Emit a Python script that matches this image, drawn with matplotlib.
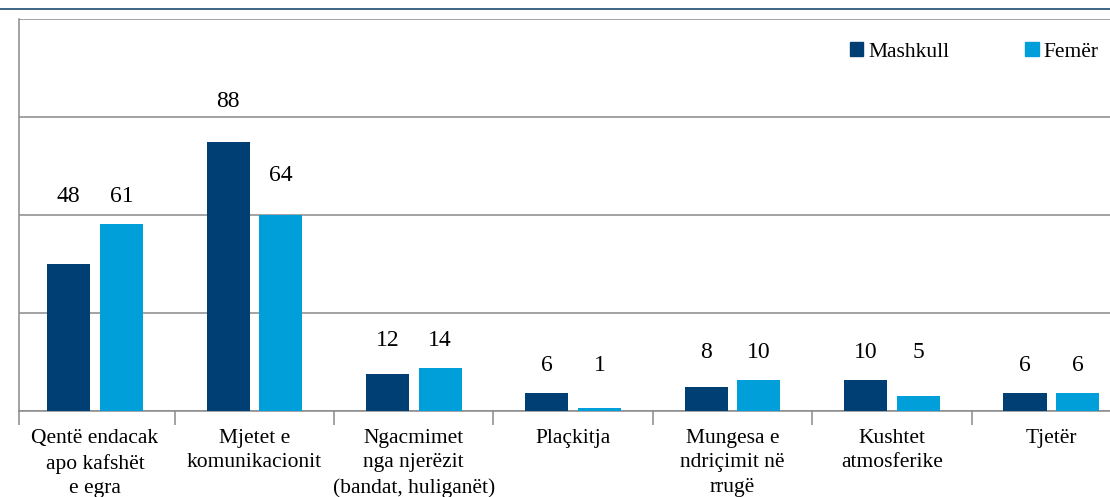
import numpy as np
import matplotlib.pyplot as plt
from matplotlib.patches import Patch
from matplotlib.lines import Line2D

plt.rcParams['font.family'] = ['Liberation Serif', 'DejaVu Serif']

categories = ["Qentë endacak\napo kafshët\ne egra", "Mjetet e\nkomunikacionit",
              "Ngacmimet\nnga njerëzit\n(bandat, huliganët)", "Plaçkitja",
              "Mungesa e\nndriçimit në\nrrugë", "Kushtet\natmosferike", "Tjetër"]
mashkull = [48, 88, 12, 6, 8, 10, 6]
femer = [61, 64, 14, 1, 10, 5, 6]
series_names = ["Mashkull", "Femër"]

navy = "#003f73"
light = "#009fd9"
grid_c = "#8a8a8a"

fig = plt.figure(figsize=(11.10, 4.97), dpi=100)
ax = fig.add_axes([19 / 1110, 1 - 411 / 497, 1112 / 1110, 392 / 497])

x = np.arange(len(categories))
w = 0.27
off = 0.165
ax.bar(x - off, mashkull, w, color=navy, zorder=3)
ax.bar(x + off, femer, w, color=light, zorder=3)

# value labels above the bars
for i in range(len(categories)):
    m, f = mashkull[i], femer[i]
    if abs(m - f) > 20:
        ym, yf = m + 13, f + 13
    else:
        ym = yf = max(m, f) + 9
    ax.text(x[i] - off, ym, str(m), ha='center', va='center', fontsize=17)
    ax.text(x[i] + off, yf, str(f), ha='center', va='center', fontsize=17)

left = -0.477
ax.set_xlim(left, len(categories) - 0.5)
ax.set_ylim(0, 128)
ax.set_yticks(np.arange(0, 129, 32))
ax.set_yticklabels([])
ax.tick_params(axis='y', length=0)
ax.yaxis.grid(True, color=grid_c, linewidth=1.1, zorder=0)

ax.set_xticks([left] + list(np.arange(0.5, len(categories) - 1, 1.0)))
ax.set_xticklabels([])
ax.set_xticks(x, minor=True)
ax.set_xticklabels(categories, minor=True, fontsize=15.5, linespacing=1.38)
ax.tick_params(axis='x', which='major', length=10, width=1.1, color=grid_c, direction='out')
ax.tick_params(axis='x', which='minor', length=0, pad=13)
for lab in ax.get_xticklabels(minor=True):
    lab.set_va('top')

for s in ['right', 'top']:
    ax.spines[s].set_visible(False)
for s in ['left', 'bottom']:
    ax.spines[s].set_color(grid_c)
    ax.spines[s].set_linewidth(1.1)

handles = [Patch(color=navy), Patch(color=light)]
ax.legend(handles, series_names, ncol=2, frameon=False, fontsize=15.5,
          loc='center left', bbox_to_anchor=((850 - 19) / 1112, (411 - 52) / 392),
          handlelength=0.62, handleheight=0.62, handletextpad=0.25,
          columnspacing=3.5, borderpad=0, borderaxespad=0)

# thin navy rule at the very top
fig.add_artist(Line2D([0, 1], [1 - 9 / 497, 1 - 9 / 497], color="#0b3a63",
                      linewidth=1.1, transform=fig.transFigure))

fig.savefig('out.png', dpi=100)
